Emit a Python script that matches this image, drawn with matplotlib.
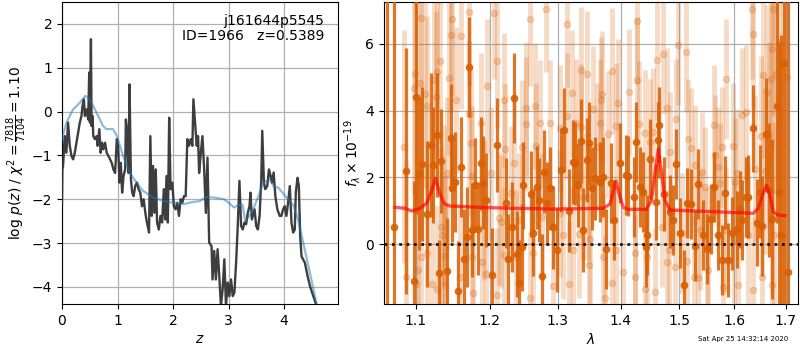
import matplotlib
matplotlib.use("Agg")
import matplotlib.pyplot as plt
from matplotlib.ticker import NullLocator, FixedLocator, FixedFormatter

# ---------------- left panel data ----------------
z_chi = [0.0, 0.007, 0.019, 0.049, 0.079, 0.109, 0.140, 0.170, 0.200, 0.230,
         0.261, 0.291, 0.321, 0.351, 0.369, 0.394, 0.412, 0.442, 0.472, 0.490,
         0.503, 0.521, 0.533, 0.551, 0.563, 0.593, 0.623, 0.642, 0.672, 0.696,
         0.720, 0.745, 0.775, 0.805, 0.835, 0.866, 0.896, 0.926, 0.956, 0.987,
         1.011, 1.035, 1.059, 1.083, 1.108, 1.138, 1.150, 1.168, 1.198, 1.216,
         1.241, 1.265, 1.289, 1.319, 1.349, 1.380, 1.410, 1.440, 1.470, 1.501,
         1.519, 1.543, 1.567, 1.591, 1.616, 1.640, 1.664, 1.688, 1.712, 1.743,
         1.773, 1.803, 1.833, 1.858, 1.882, 1.906, 1.930, 1.955, 1.985, 2.015,
         2.045, 2.076, 2.106, 2.136, 2.166, 2.196, 2.227, 2.257, 2.287, 2.317,
         2.348, 2.366, 2.396, 2.426, 2.450, 2.469, 2.499, 2.529, 2.560, 2.590,
         2.620, 2.650, 2.693, 2.711, 2.741, 2.771, 2.802, 2.832, 2.862, 2.892,
         2.923, 2.953, 2.983, 3.013, 3.044, 3.074, 3.104, 3.135, 3.165, 3.195,
         3.225, 3.255, 3.286, 3.316, 3.346, 3.376, 3.394, 3.419, 3.467, 3.497,
         3.527, 3.558, 3.588, 3.606, 3.636, 3.660, 3.696, 3.727, 3.757, 3.781,
         3.811, 3.842, 3.878, 3.920, 3.950, 3.981, 4.011, 4.041, 4.071, 4.102,
         4.132, 4.162, 4.192, 4.210, 4.241, 4.265, 4.289, 4.313, 4.374, 4.422,
         4.465, 4.525, 4.586, 4.65]
chi_logp = [-2.1, -1.32, -1.24, -0.56, -0.94, -0.25, -0.78, -1.01, -1.09, -0.94,
            -0.71, -0.48, -0.25, -0.10, 0.13, 0.28, -0.10, 0.05, -0.18, 0.89,
            -0.25, 1.65, -0.33, -0.10, -0.56, -0.63, -0.56, -0.78, -0.40, -0.94,
            -0.71, -0.86, -0.71, -0.94, -1.01, -1.09, -1.17, -1.32, -1.40, -0.63,
            -0.78, -1.62, -1.17, -1.85, -1.47, -1.32, -0.18, -0.40, -1.40, 0.62,
            -1.55, -1.85, -1.93, -1.70, -1.62, -1.77, -1.85, -2.16, -2.00, -2.31,
            -2.46, -2.61, -2.76, -0.56, -2.38, -1.24, -2.31, -1.32, -2.53, -2.69,
            -2.38, -2.53, -1.77, -2.46, -1.47, -2.53, -0.14, -1.77, -1.62, -2.16,
            -2.23, -2.08, -2.38, -2.00, -2.08, -1.93, -1.93, -0.63, -0.78, -0.63,
            -0.78, 0.28, -0.25, -0.78, -0.56, -1.40, -0.95, -0.56, -1.32, -2.31,
            -1.05, -2.99, -3.07, -3.83, -3.18, -3.83, -3.14, -3.75, -4.44, -4.06,
            -3.37, -4.44, -3.90, -4.21, -3.83, -4.21, -4.13, -3.45, -2.61, -1.58,
            -2.61, -2.69, -2.53, -2.57, -2.31, -2.16, -1.85, -2.46, -2.23, -2.61,
            -2.69, -2.38, -1.55, -0.44, -1.62, -1.77, -1.70, -1.32, -1.47, -1.62,
            -1.39, -1.93, -2.23, -2.38, -2.38, -2.23, -2.16, -2.38, -2.08, -1.70,
            -2.53, -2.76, -2.69, -1.85, -1.51, -1.70, -2.84, -3.30, -3.45, -3.75,
            -3.98, -4.21, -4.44, -4.8]

z_pz = [0.0, 0.08, 0.2, 0.32, 0.42, 0.5, 0.62, 0.74, 0.8, 0.92,
        0.99, 1.10, 1.22, 1.34, 1.46, 1.64, 1.83, 2.0, 2.19, 2.37,
        2.49, 2.59, 2.73, 2.92, 3.0, 3.10, 3.16, 3.25, 3.30, 3.42,
        3.54, 3.63, 3.74, 3.81, 3.90, 4.02, 4.11, 4.17, 4.25, 4.37,
        4.49, 4.58, 4.65]
logpz = [-0.63, -0.25, 0.05, 0.20, 0.36, 0.28, -0.02, -0.33, -0.40, -0.40,
         -0.56, -1.01, -1.39, -1.62, -1.81, -1.96, -2.04, -2.08, -2.11, -2.06,
         -2.04, -1.95, -1.96, -2.00, -2.08, -2.19, -2.14, -2.12, -2.50, -2.30,
         -1.92, -1.62, -1.54, -1.70, -1.74, -1.93, -2.05, -2.15, -2.46, -3.14,
         -3.83, -4.36, -4.8]

z_ticks = [0, 1, 2, 3, 4]
logp_ticks = [-4, -3, -2, -1, 0, 1, 2]

# ---------------- right panel data ----------------
dark_wave = [1.0635, 1.0722, 1.0870, 1.0978, 1.1008, 1.1043, 1.1086, 1.1151, 1.1196, 1.1230,
             1.1275, 1.1306, 1.1336, 1.1417, 1.1462, 1.1484, 1.1520, 1.1561, 1.1606, 1.1643,
             1.1680, 1.1716, 1.1758, 1.1791, 1.1837, 1.1875, 1.1912, 1.1949, 1.2038, 1.2109,
             1.2229, 1.2262, 1.2315, 1.2348, 1.2396, 1.2421, 1.2460, 1.2475, 1.2593, 1.2632,
             1.2682, 1.2721, 1.2766, 1.2796, 1.2832, 1.2883, 1.2933, 1.2994, 1.3055, 1.3101,
             1.3169, 1.3231, 1.3267, 1.3318, 1.3366, 1.3397, 1.3451, 1.3492, 1.3535, 1.3588,
             1.3663, 1.3717, 1.3761, 1.3837, 1.3895, 1.3988, 1.4088, 1.4126, 1.4220, 1.4254,
             1.4321, 1.4367, 1.4423, 1.4445, 1.4491, 1.4593, 1.4622, 1.4645, 1.4740, 1.4835,
             1.4893, 1.4935, 1.5011, 1.5087, 1.5130, 1.5206, 1.5278, 1.5337, 1.5428, 1.5490,
             1.5568, 1.5629, 1.5702, 1.5765, 1.5826, 1.5888, 1.5951, 1.6045, 1.6108, 1.6151,
             1.6216, 1.6266, 1.6362, 1.6428, 1.6491, 1.6537, 1.6603, 1.6668, 1.6733, 1.6820,
             1.6865, 1.6905, 1.6970, 1.7038]
dark_flux = [7.6, 0.50, 2.19, -1.10, 4.40, 2.12, 2.40, 0.90, 2.97, 2.37,
             3.27, -0.88, 2.49, -0.81, 3.19, 1.67, 1.85, -1.41, 2.32, -0.44,
             0.20, 5.31, 0.42, 1.77, 0.46, 2.42, 1.84, 1.32, -0.92, 2.97,
             1.24, -0.44, 0.52, 4.37, -0.30, -1.18, -0.10, 1.76, 1.50, 0.34,
             1.70, 1.32, -0.96, 2.17, 1.22, 1.67, 0.50, -0.18, 2.22, 3.42,
             1.00, 2.46, 2.42, 1.77, 3.09, 0.42, 2.52, 3.02, 1.67, 1.97,
             1.87, 2.02, -0.16, 1.84, 0.72, 2.44, 2.06, 2.04, 1.40, 3.07,
             1.72, 1.57, -0.10, 0.27, 2.54, 1.26, 3.12, 3.57, 1.50, 0.97,
             0.72, 2.40, 0.32, -1.23, 1.22, 1.20, -0.06, 1.80, 0.27, -0.14,
             0.74, 1.70, 0.27, -0.48, 1.54, -0.48, 0.32, 0.44, 1.04, 0.72,
             1.40, 1.42, 3.47, 0.64, 1.57, 0.54, 3.29, 1.62, 0.74, 4.14,
             1.57, 0.26, 5.42, -0.83]
dark_err = [9.5, 7.0, 3.7, 3.0, 3.5, 2.3, 2.3, 2.2, 2.15, 1.75,
            1.85, 1.0, 1.55, 1.6, 1.6, 1.6, 1.5, 1.5, 1.5, 1.5,
            1.5, 1.5, 1.4, 1.4, 1.4, 1.4, 1.4, 1.4, 1.4, 1.4,
            1.35, 1.35, 1.35, 1.35, 1.3, 1.3, 1.3, 1.3, 1.3, 1.3,
            1.25, 1.25, 1.25, 1.25, 1.25, 1.25, 1.25, 1.25, 1.25, 1.25,
            1.25, 1.25, 1.25, 1.25, 1.25, 1.25, 1.25, 1.25, 1.25, 1.25,
            1.2, 1.2, 1.2, 1.2, 1.2, 1.2, 1.2, 1.2, 1.2, 1.2,
            1.2, 1.2, 1.2, 1.2, 1.2, 1.15, 1.15, 1.15, 1.1, 1.1,
            1.05, 1.05, 1.05, 1.05, 1.05, 1.05, 1.05, 1.05, 1.05, 1.05,
            1.05, 1.05, 1.05, 1.05, 1.1, 1.1, 1.1, 1.15, 1.15, 1.2,
            1.2, 1.25, 1.3, 1.3, 1.4, 1.5, 1.7, 2.0, 2.4, 3.5,
            4.5, 6.0, 8.0, 9.0]

light_wave = [1.0849, 1.0870, 1.0978, 1.0991, 1.1008, 1.1034, 1.1052, 1.1065, 1.1073, 1.1121,
              1.1143, 1.1151, 1.1217, 1.1240, 1.1270, 1.1275, 1.1283, 1.1319, 1.1328, 1.1342,
              1.1372, 1.1380, 1.1386, 1.1417, 1.1444, 1.1471, 1.1484, 1.1530, 1.1595, 1.1606,
              1.1705, 1.1712, 1.1743, 1.1748, 1.1758, 1.1771, 1.1875, 1.1898, 1.1921, 1.1944,
              1.1963, 1.2015, 1.2062, 1.2100, 1.2105, 1.2133, 1.2157, 1.2205, 1.2210, 1.2223,
              1.2300, 1.2348, 1.2373, 1.2421, 1.2469, 1.2524, 1.2530, 1.2583, 1.2590, 1.2632,
              1.2657, 1.2665, 1.2732, 1.2757, 1.2817, 1.2883, 1.2933, 1.3035, 1.3040, 1.3086,
              1.3137, 1.3143, 1.3179, 1.3215, 1.3241, 1.3282, 1.3329, 1.3356, 1.3360, 1.3397,
              1.3459, 1.3476, 1.3480, 1.3503, 1.3551, 1.3610, 1.3663, 1.3687, 1.3703, 1.3717,
              1.3744, 1.3796, 1.3850, 1.3860, 1.3920, 1.3931, 1.3958, 1.4038, 1.4142, 1.4237,
              1.4245, 1.4266, 1.4276, 1.4310, 1.4406, 1.4410, 1.4435, 1.4491, 1.4548, 1.4576,
              1.4605, 1.4693, 1.4720, 1.4777, 1.4783, 1.4817, 1.4835, 1.4923, 1.4948, 1.4985,
              1.5041, 1.5117, 1.5130, 1.5152, 1.5211, 1.5265, 1.5278, 1.5337, 1.5368, 1.5409,
              1.5459, 1.5490, 1.5520, 1.5629, 1.5640, 1.5702, 1.5734, 1.5777, 1.5795, 1.5842,
              1.5854, 1.5982, 1.6001, 1.6014, 1.6045, 1.6077, 1.6140, 1.6216, 1.6266, 1.6331,
              1.6350, 1.6362, 1.6395, 1.6511, 1.6524, 1.6556, 1.6589, 1.6621, 1.6668, 1.6707,
              1.6720, 1.6728, 1.6752, 1.6760, 1.6799, 1.6865, 1.6950, 1.7020]
light_flux = [2.92, -0.98, 4.69, 5.10, -1.21, -0.78, 4.82, 6.77, -0.40, 4.49,
              4.14, -0.28, -1.20, 4.92, 4.40, -1.36, 5.15, 5.50, 0.52, 0.27,
              1.17, -0.36, -1.23, 2.12, 4.97, 6.26, 6.74, 4.32, -1.00, 6.24,
              3.90, 6.97, 3.04, -0.38, 2.04, -1.48, 3.62, -0.53, 1.02, -0.90,
              4.74, 2.12, 6.94, 5.49, -1.53, 0.77, 0.67, 4.32, -0.33, 2.84,
              1.54, 2.42, -0.38, 0.72, 2.92, 4.07, 3.60, 6.74, -1.63, -0.28,
              4.14, 2.94, 3.62, 0.82, 7.05, 3.62, -1.26, 3.47, 0.92, 0.26,
              3.84, 6.60, -1.21, 4.52, -0.18, 3.64, 0.29, 3.50, 5.22, 1.42,
              5.10, 1.42, -0.63, 0.14, 4.04, 2.92, 3.64, 4.32, 4.49, -0.38,
              -1.63, 3.29, -1.18, 5.19, 3.54, -0.18, 4.24, -0.83, 4.56, -1.00,
              -0.28, 4.92, 6.70, 3.60, 3.32, -1.36, -0.40, 3.06, 3.37, -1.43,
              5.52, 0.50, 5.70, 4.07, -0.53, -0.18, 2.77, -0.68, 3.74, 5.96,
              0.32, 5.76, -0.51, 3.14, 2.87, -0.98, 2.37, -1.03, 0.42, 2.17,
              1.70, -0.08, -0.78, 3.56, 2.67, 2.32, 1.82, 2.92, -1.28, 4.95,
              0.42, 2.94, 0.12, 1.87, 2.14, -1.23, 3.87, 3.96, 0.27, 7.04,
              -1.38, 6.29, 2.26, 3.24, -0.98, 5.07, 2.20, 4.57, 3.27, 4.94,
              5.84, -1.23, 7.04, 0.27, 5.10, 6.04, 3.0, 5.0]
light_err = [3.5, 3.5, 3.2, 3.2, 3.0, 3.0, 3.0, 3.0, 2.8, 2.8,
             2.7, 2.7, 2.6, 2.6, 2.6, 2.5, 2.5, 2.5, 2.4, 2.4,
             2.4, 2.4, 2.3, 2.3, 2.3, 2.3, 2.3, 2.2, 2.2, 2.2,
             2.2, 2.2, 2.2, 2.1, 2.1, 2.1, 2.1, 2.1, 2.1, 2.1,
             2.0, 2.0, 2.0, 2.0, 2.0, 2.0, 2.0, 2.0, 2.0, 2.0,
             2.0, 2.0, 2.0, 2.0, 2.0, 2.0, 2.0, 2.0, 2.0, 2.0,
             1.9, 1.9, 1.9, 1.9, 1.9, 1.9, 1.9, 1.9, 1.9, 1.9,
             1.9, 1.9, 1.9, 1.9, 1.9, 1.9, 1.9, 1.9, 1.9, 1.9,
             1.9, 1.9, 1.9, 1.9, 1.9, 1.9, 1.9, 1.9, 1.9, 1.9,
             1.9, 1.9, 1.9, 1.9, 1.9, 1.9, 1.9, 1.9, 1.9, 1.9,
             1.9, 1.9, 1.9, 1.9, 1.9, 1.9, 1.9, 1.9, 1.9, 1.9,
             1.8, 1.8, 1.8, 1.8, 1.8, 1.8, 1.8, 1.8, 1.8, 1.8,
             1.8, 1.8, 1.8, 1.8, 1.8, 1.8, 1.8, 1.8, 1.8, 1.8,
             1.8, 1.8, 1.8, 1.8, 1.8, 1.8, 1.8, 1.8, 1.8, 1.8,
             1.9, 1.9, 1.9, 1.9, 1.9, 2.0, 2.0, 2.0, 2.1, 2.1,
             2.2, 2.2, 2.2, 2.4, 2.4, 2.5, 2.5, 2.6, 2.8, 3.0,
             3.0, 3.2, 3.2, 3.4, 3.6, 4.5, 8.0, 8.0]

model_wave = [1.0735, 1.0862, 1.0948, 1.1056, 1.1142, 1.1207, 1.1259, 1.1315, 1.1380, 1.1453,
              1.1865, 1.2348, 1.2979, 1.3717, 1.3825, 1.3880, 1.3923, 1.3972, 1.4043, 1.4126,
              1.4430, 1.4516, 1.4576, 1.4633, 1.4690, 1.4748, 1.4835, 1.5611, 1.6362, 1.6459,
              1.6556, 1.6621, 1.6687, 1.6752, 1.6850, 1.6984]
model_flux = [1.10, 1.07, 0.99, 1.07, 1.22, 1.59, 1.97, 1.52, 1.20, 1.14,
              1.10, 1.07, 1.05, 1.07, 1.20, 1.59, 1.89, 1.52, 1.10, 1.04,
              1.04, 1.32, 2.12, 2.84, 2.12, 1.32, 1.02, 0.97, 0.92, 1.07,
              1.52, 1.76, 1.47, 0.97, 0.87, 0.85]

wave_ticks = [1.1, 1.2, 1.3, 1.4, 1.5, 1.6, 1.7]
wave_labels = ["1.1", "1.2", "1.3", "1.4", "1.5", "1.6", "1.7"]
flux_ticks = [0, 2, 4, 6]

target_name = "j161644p5545"
target_info = "ID=1966   z=0.5389"
stamp = "Sat Apr 25 14:32:14 2020"

orange = "#d95f02"

fig = plt.figure(figsize=(8, 3.5), dpi=100)

# ---------- left ----------
ax1 = fig.add_axes([0.0775, 0.1314, 0.345, 0.8629])
ax1.plot(z_chi, chi_logp, color="#333333", lw=1.7, alpha=0.95, zorder=3)
ax1.plot(z_pz, logpz, color="#1f77b4", lw=1.6, alpha=0.5, zorder=4)
ax1.set_xlim(0, 4.97)
ax1.set_ylim(-4.39, 2.5)
ax1.set_xticks(z_ticks)
ax1.set_yticks(logp_ticks)
ax1.grid(True, color="#b0b0b0", lw=0.9)
ax1.set_axisbelow(True)
ax1.set_xlabel(r"$z$", labelpad=3)
ax1.set_ylabel(r"log $p(z)$ / $\chi^2=\frac{7818}{7104}=1.10$", labelpad=2)
ax1.text(0.95, 0.96, target_name + "\n" + target_info, transform=ax1.transAxes,
         ha="right", va="top", fontsize=10, linespacing=1.1)

# ---------- right ----------
ax2 = fig.add_axes([0.48, 0.1314, 0.5175, 0.8629])
ax2.errorbar(light_wave, light_flux, yerr=light_err, fmt="o", color=orange,
             ms=4.5, elinewidth=3.5, capsize=0, alpha=0.22, zorder=2)
ax2.errorbar(dark_wave, dark_flux, yerr=dark_err, fmt="o", color=orange,
             ms=4.5, elinewidth=2.3, capsize=0, alpha=0.85, zorder=3)
ax2.plot(model_wave, model_flux, color="red", lw=2.4, alpha=0.65, zorder=5)
ax2.axhline(0, color="k", ls=":", lw=2, alpha=0.85, zorder=6)
ax2.set_xscale("log")
ax2.set_xlim(1.0597, 1.7248)
ax2.set_ylim(-1.8, 7.26)
ax2.xaxis.set_major_locator(FixedLocator(wave_ticks))
ax2.xaxis.set_major_formatter(FixedFormatter(wave_labels))
ax2.xaxis.set_minor_locator(NullLocator())
ax2.set_yticks(flux_ticks)
ax2.grid(True, color="#b0b0b0", lw=0.9)
ax2.set_axisbelow(True)
ax2.set_xlabel(r"$\lambda$", labelpad=3)
ax2.set_ylabel(r"$f_\lambda\times10^{-19}$", labelpad=2)

fig.text(0.985, 0.031, stamp, ha="right", va="center", fontsize=5)

fig.savefig("out.png", dpi=100)
